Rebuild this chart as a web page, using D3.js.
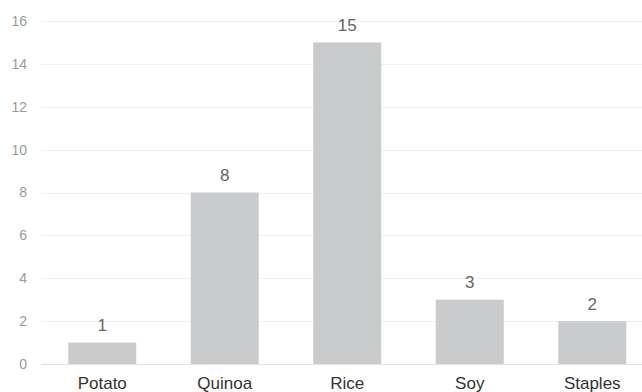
<!DOCTYPE html>
<html>
<head>
<meta charset="utf-8">
<script src="https://cdn.jsdelivr.net/npm/d3@7"></script>
<style>
  body { margin: 0; background: #fff; }
  svg { display: block; font-family: "Liberation Sans", Arial, sans-serif; }
</style>
</head>
<body>
<div id="chart"></div>
<script>
const categories = ["Potato", "Quinoa", "Rice", "Soy", "Staples"];
const values = [1, 8, 15, 3, 2];
const yTicks = [0, 2, 4, 6, 8, 10, 12, 14, 16];

const width = 642, height = 392;

const svg = d3.select("#chart").append("svg")
    .attr("width", width)
    .attr("height", height);

const x = d3.scaleBand()
    .domain(categories)
    .range([41, 653.5])
    .paddingInner(0.445)
    .paddingOuter(0.2225);

const y = d3.scaleLinear()
    .domain([0, 16])
    .range([364, 21]);

// grid
svg.append("g")
    .attr("class", "grid")
    .selectAll("line")
    .data(yTicks)
    .join("line")
    .attr("x1", 41)
    .attr("x2", width)
    .attr("y1", d => Math.round(y(d)) + 0.5)
    .attr("y2", d => Math.round(y(d)) + 0.5)
    .attr("stroke", d => d === 0 ? "#e2e2e2" : "#f0f0f0")
    .attr("stroke-width", 1);

// y axis labels
svg.append("g")
    .attr("class", "y axis")
    .selectAll("text")
    .data(yTicks)
    .join("text")
    .attr("x", 27)
    .attr("y", d => y(d))
    .attr("dy", "0.35em")
    .attr("text-anchor", "end")
    .attr("fill", "#999")
    .style("font-size", "14px")
    .text(d => d);

// bars
svg.append("g")
    .selectAll("rect")
    .data(values)
    .join("rect")
    .attr("x", (d, i) => x(categories[i]))
    .attr("y", d => y(d))
    .attr("width", x.bandwidth())
    .attr("height", d => y(0) - y(d))
    .attr("fill", "#cacbcd");

// value labels
svg.append("g")
    .selectAll("text")
    .data(values)
    .join("text")
    .attr("x", (d, i) => x(categories[i]) + x.bandwidth() / 2)
    .attr("y", d => y(d) - 11.5)
    .attr("text-anchor", "middle")
    .attr("fill", "#666")
    .style("font-size", "17px")
    .text(d => d);

// x axis labels
svg.append("g")
    .attr("class", "x axis")
    .selectAll("text")
    .data(categories)
    .join("text")
    .attr("x", d => x(d) + x.bandwidth() / 2)
    .attr("y", 389)
    .attr("text-anchor", "middle")
    .attr("fill", "#333")
    .style("font-size", "17px")
    .text(d => d);
</script>
</body>
</html>
